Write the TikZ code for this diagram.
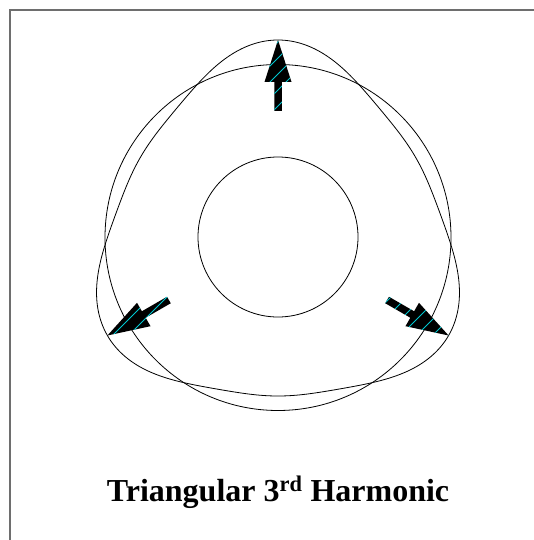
\documentclass[tikz,border=0pt]{standalone}
\usepackage{fontspec}
\setmainfont{Liberation Serif}
\definecolor{hatchcol}{RGB}{0,200,210}
\definecolor{framecol}{RGB}{110,110,110}
\newcommand\hpArrowPath{(0,0) -- (-42,13.5) -- (-42,3.75) -- (-71,3.75) -- (-71,-3.75) -- (-42,-3.75) -- (-42,-13.5) -- cycle}
\newcommand\hpArrow[2]{%
  \fill[black, shift={#1}, rotate=#2] \hpArrowPath;
  \begin{scope}
    \clip[shift={#1}, rotate=#2] \hpArrowPath;
    \foreach \c in {-540,-524,...,540} \draw[hatchcol, line width=0.9pt] (\c,540) -- ++(540,-540);
  \end{scope}}
\begin{document}
\begin{tikzpicture}[x=1pt,y=-1pt, curve/.style={line width=0.8pt}]
\useasboundingbox (0,0) rectangle (534,540);
\fill[white] (0,0) rectangle (534,540);
\draw[framecol, line width=1.6pt] (10,540) -- (10,10) -- (534,10);
\coordinate (O) at (278,237);
\draw[curve] (278,237.5) circle[radius=173];
\draw[curve] (O) circle[radius=80];
\draw[curve] plot[domain=0:360, samples=361] ({278+(174.2+19*cos(3*\x)+3.8*cos(6*\x))*sin(\x)}, {237-(174.2+19*cos(3*\x)+3.8*cos(6*\x))*cos(\x)}) -- cycle;
\hpArrow{(278,40)}{90}
\hpArrow{(107.4,335.5)}{210}
\hpArrow{(448.6,335.5)}{330}
\node[anchor=base] (title) at (278,501) {\fontsize{32}{38}\selectfont\bfseries Triangular 3\textsuperscript{rd} Harmonic};
\end{tikzpicture}
\end{document}
